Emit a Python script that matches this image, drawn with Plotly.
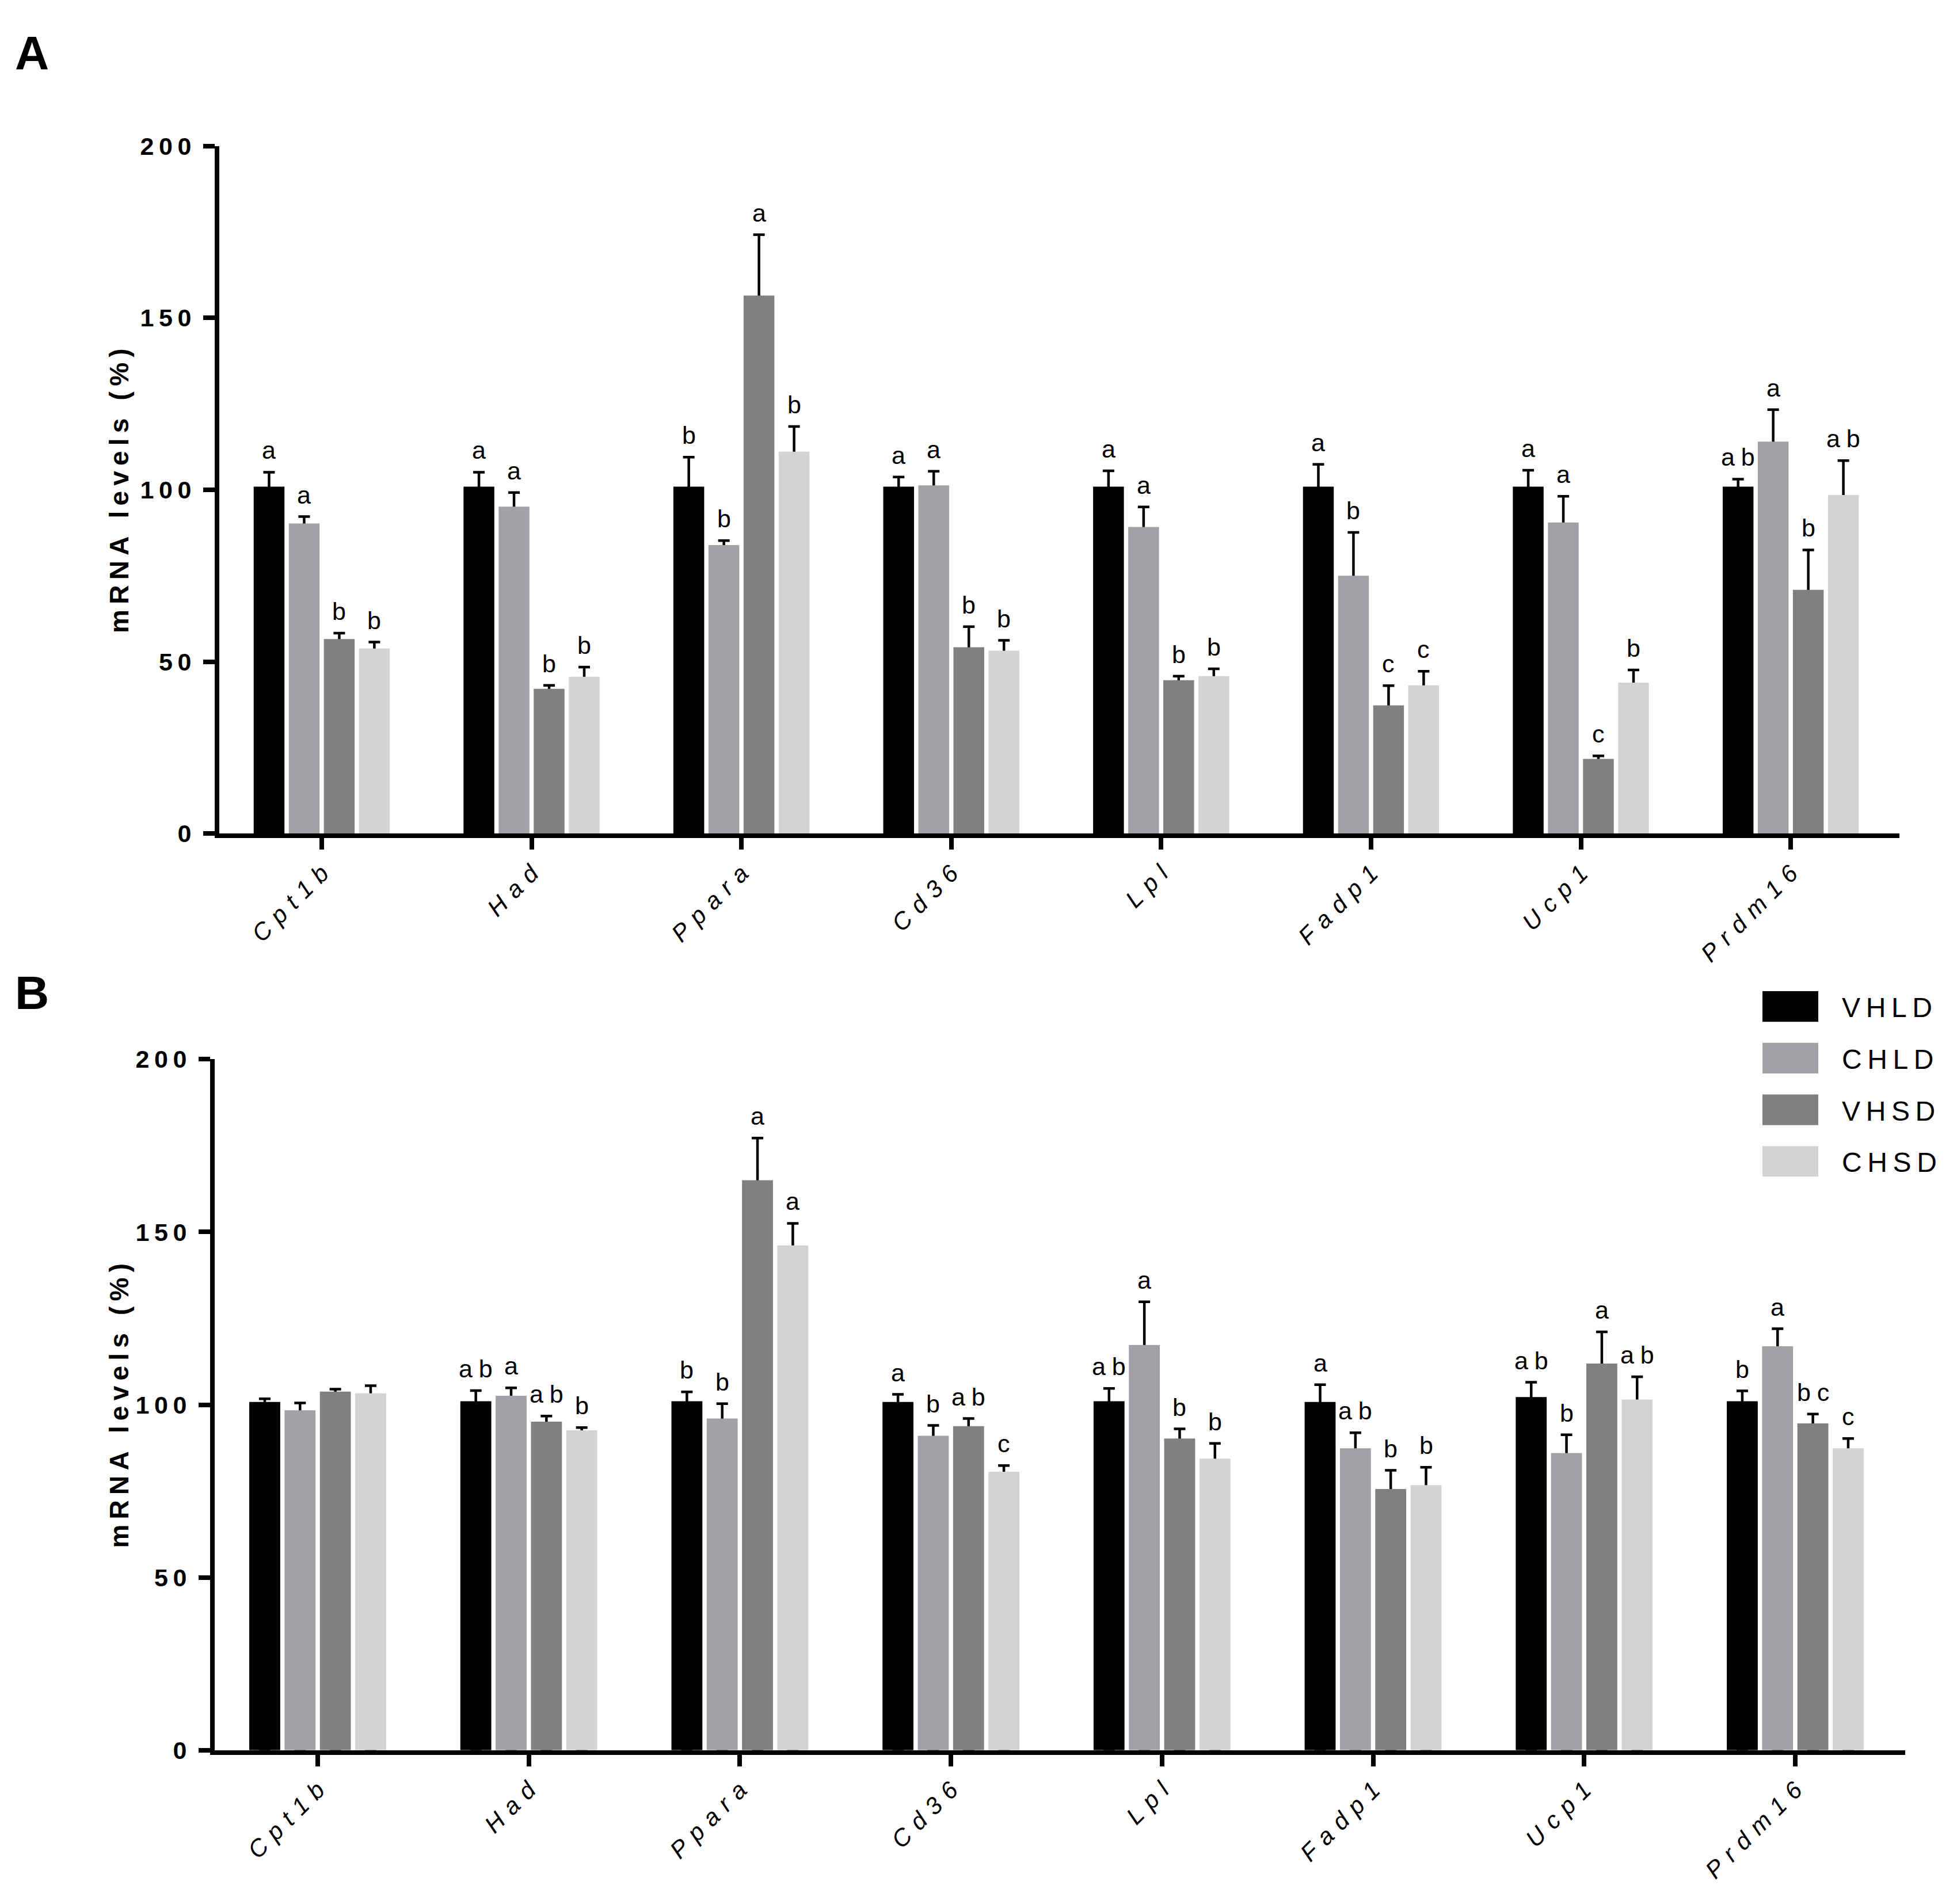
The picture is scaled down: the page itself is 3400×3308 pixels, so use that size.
import plotly.graph_objects as go

# genes on the x axis and the four diet/treatment groups
genes = ['Cpt1b', 'Had', 'Ppara', 'Cd36', 'Lpl', 'Fadp1', 'Ucp1', 'Prdm16']
groups = ['VHLD', 'CHLD', 'VHSD', 'CHSD']
colours = ['#000000', '#a2a1a6', '#808080', '#d3d3d3']
y_ticks = [0, 50, 100, 150, 200]

# panel A - mean and SEM (% of VHLD)
a_vhld = [100.9, 100.9, 100.9, 100.9, 100.9, 100.9, 100.9, 100.9]
a_chld = [90.2, 95.1, 83.9, 101.3, 89.2, 75.0, 90.5, 114.0]
a_vhsd = [56.6, 42.1, 156.5, 54.2, 44.6, 37.3, 21.7, 70.9]
a_chsd = [53.8, 45.6, 111.1, 53.2, 45.8, 43.1, 43.9, 98.5]
a_vhld_sem = [4.2, 4.2, 8.6, 2.8, 4.6, 6.5, 4.8, 2.2]
a_chld_sem = [2.0, 4.1, 1.3, 4.1, 5.8, 12.6, 7.6, 9.3]
a_vhsd_sem = [1.7, 1.0, 17.7, 6.0, 1.2, 5.7, 0.9, 11.6]
a_chsd_sem = [1.9, 2.8, 7.3, 3.0, 2.1, 4.1, 3.7, 10.0]
a_vhld_let = ['a', 'a', 'b', 'a', 'a', 'a', 'a', 'ab']
a_chld_let = ['a', 'a', 'b', 'a', 'a', 'b', 'a', 'a']
a_vhsd_let = ['b', 'b', 'a', 'b', 'b', 'c', 'c', 'b']
a_chsd_let = ['b', 'b', 'b', 'b', 'b', 'c', 'b', 'ab']

# panel B
b_vhld = [100.8, 101.0, 101.0, 100.8, 101.0, 100.8, 102.2, 101.0]
b_chld = [98.4, 102.6, 96.0, 91.0, 117.3, 87.4, 86.0, 116.9]
b_vhsd = [103.8, 95.1, 165.0, 93.8, 90.2, 75.6, 111.9, 94.6]
b_chsd = [103.3, 92.6, 146.1, 80.6, 84.4, 76.7, 101.5, 87.4]
b_vhld_sem = [0.9, 3.1, 2.7, 2.2, 3.7, 5.0, 4.3, 3.0]
b_chld_sem = [2.1, 2.3, 4.3, 3.0, 12.5, 4.5, 5.3, 5.1]
b_vhsd_sem = [0.7, 1.6, 12.2, 2.2, 2.8, 5.4, 9.2, 2.7]
b_chsd_sem = [2.2, 0.8, 6.4, 1.8, 4.4, 5.2, 6.6, 2.8]
b_vhld_let = ['', 'ab', 'b', 'a', 'ab', 'a', 'ab', 'b']
b_chld_let = ['', 'a', 'b', 'b', 'a', 'ab', 'b', 'a']
b_vhsd_let = ['', 'ab', 'a', 'ab', 'b', 'b', 'a', 'bc']
b_chsd_let = ['', 'b', 'a', 'c', 'b', 'b', 'ab', 'c']

W, H = 3400, 3308
OFF = 8  # default body margin of the html page
FONT = 'Liberation Sans, Arial, sans-serif'
BARGAP = 0.331
GROUPGAP = 0.123


def spaced(s, sp='\u2009'):
    '''GraphPad style letter spacing'''
    return sp.join(list(s.replace(' ', '\u00a0')))


def px(x):
    return (x - OFF) / W


def py(y):
    return 1 - (y - OFF) / H


fig = go.Figure()

panels = [
    ('x', 'y', [a_vhld, a_chld, a_vhsd, a_chsd],
     [a_vhld_sem, a_chld_sem, a_vhsd_sem, a_chsd_sem],
     [a_vhld_let, a_chld_let, a_vhsd_let, a_chsd_let]),
    ('x2', 'y2', [b_vhld, b_chld, b_vhsd, b_chsd],
     [b_vhld_sem, b_chld_sem, b_vhsd_sem, b_chsd_sem],
     [b_vhld_let, b_chld_let, b_vhsd_let, b_chsd_let]),
]

annotations = []
slot = (1 - BARGAP) / len(groups)
for xref, yref, means, sems, letters in panels:
    # error bars first (on transparent bars) so the real bars hide the lower stem
    for k in range(len(groups)):
        fig.add_bar(x=genes, y=means[k], xaxis=xref, yaxis=yref,
                    offsetgroup=str(k), showlegend=False, hoverinfo='skip',
                    marker=dict(color='rgba(0,0,0,0)', line=dict(width=0)),
                    error_y=dict(type='data', symmetric=False, array=sems[k],
                                 arrayminus=means[k], color='black',
                                 thickness=4.5, width=10))
    for k in range(len(groups)):
        fig.add_bar(x=genes, y=means[k], xaxis=xref, yaxis=yref,
                    offsetgroup=str(k), name=groups[k], showlegend=False,
                    marker=dict(color=colours[k], line=dict(width=0)))
        for i in range(len(genes)):
            if letters[k][i]:
                annotations.append(dict(
                    x=i + (k - 1.5) * slot, y=means[k][i] + sems[k][i],
                    xref=xref, yref=yref, text=spaced(letters[k][i], '\u2005'),
                    showarrow=False, yanchor='bottom', yshift=12,
                    font=dict(family=FONT, size=43, color='black')))

# panel letters and y titles
for lab, yc in [('A', 68), ('B', 1725)]:
    annotations.append(dict(x=px(24), y=py(yc), xref='paper', yref='paper',
                            text='<b>%s</b>' % lab, showarrow=False,
                            xanchor='left', yanchor='middle',
                            font=dict(family=FONT, size=82, color='black')))
for yc in [841, 2454]:
    annotations.append(dict(x=px(207), y=py(yc), xref='paper', yref='paper',
                            text='<b>' + spaced('mRNA levels (%)') + '</b>',
                            textangle=-90, showarrow=False,
                            xanchor='center', yanchor='middle',
                            font=dict(family=FONT, size=46, color='black')))

# legend drawn by hand (big boxes)
shapes = []
for k, g in enumerate(groups):
    top = 1723 + 91 * k
    shapes.append(dict(type='rect', xref='paper', yref='paper',
                       x0=px(3062), x1=px(3159), y0=py(top), y1=py(top + 54),
                       fillcolor=colours[k], line=dict(width=0)))
    annotations.append(dict(x=px(3198), y=py(top + 29), xref='paper', yref='paper',
                            text=spaced(g), showarrow=False,
                            xanchor='left', yanchor='middle',
                            font=dict(family=FONT, size=48, color='black')))

xcommon = dict(type='category', showline=True, linewidth=8, linecolor='black',
               ticks='outside', ticklen=20, tickwidth=8, tickcolor='black',
               showgrid=False, zeroline=False, tickangle=-45,
               tickvals=genes, ticktext=[spaced(g, '\u2004') for g in genes],
               tickfont=dict(family=FONT, size=42, color='black', style='italic'))
ycommon = dict(range=[0, 200], showline=True, linewidth=8, linecolor='black',
               ticks='outside', ticklen=20, tickwidth=8, tickcolor='black',
               showgrid=False, zeroline=False, ticklabelstandoff=12,
               tickvals=y_ticks, ticktext=[spaced(str(t)) for t in y_ticks],
               tickfont=dict(family=FONT, size=43, color='black', weight='bold'))

fig.update_layout(
    width=W, height=H,
    margin=dict(l=0, r=0, t=0, b=0),
    paper_bgcolor='white', plot_bgcolor='white',
    barmode='group', bargap=BARGAP, bargroupgap=GROUPGAP,
    showlegend=False,
    xaxis=dict(xcommon, domain=[px(381), px(3300)], range=[-0.488, 7.518], anchor='y'),
    yaxis=dict(ycommon, domain=[py(1445), py(233)], anchor='x'),
    xaxis2=dict(xcommon, domain=[px(373), px(3310)], range=[-0.488, 7.521], anchor='y2'),
    yaxis2=dict(ycommon, domain=[py(3061), py(1843)], anchor='x2'),
    annotations=annotations,
    shapes=shapes,
)

fig.write_html('out.html')
